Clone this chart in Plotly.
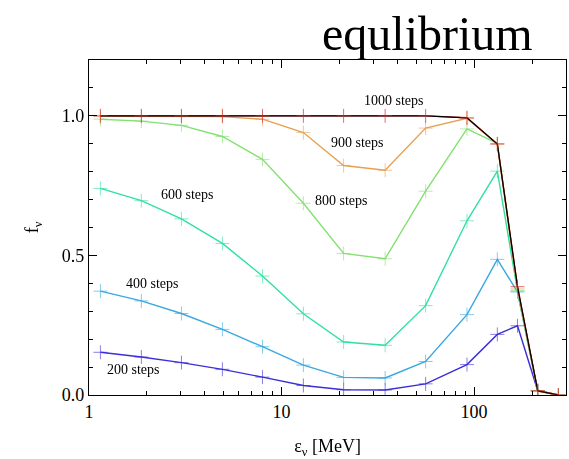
import numpy as np
import plotly.graph_objects as go

# neutrino energy bins [MeV]
energy = [1.146, 1.87, 3.02, 4.93, 7.96, 12.98, 21.0, 34.5, 56.0, 91.8, 132, 168, 214, 274]

# occupation numbers after a given number of steps
f_200 = [0.153, 0.136, 0.116, 0.092, 0.064, 0.034, 0.019, 0.018, 0.040, 0.109, 0.217, 0.248, 0.015, 0.0]
f_400 = [0.372, 0.337, 0.292, 0.235, 0.173, 0.107, 0.063, 0.061, 0.120, 0.288, 0.486, 0.369, 0.015, 0.0]
f_600 = [0.740, 0.696, 0.631, 0.543, 0.426, 0.291, 0.190, 0.178, 0.320, 0.624, 0.802, 0.372, 0.015, 0.0]
f_800 = [0.988, 0.981, 0.966, 0.926, 0.844, 0.687, 0.507, 0.488, 0.730, 0.953, 0.901, 0.375, 0.015, 0.0]
f_900 = [0.998, 0.998, 0.998, 0.997, 0.988, 0.940, 0.822, 0.805, 0.956, 0.991, 0.899, 0.380, 0.015, 0.0]
f_1000 = [1.0, 1.0, 1.0, 1.0, 1.0, 1.0, 1.0, 1.0, 1.0, 0.993, 0.899, 0.388, 0.015, 0.0]
# equilibrium distribution
f_eq = [1.0, 1.0, 1.0, 1.0, 1.0, 1.0, 1.0, 1.0, 1.0, 0.993, 0.899, 0.388, 0.015, 0.0]

series = [
    ("200 steps", f_200, "#3a2fd8"),
    ("400 steps", f_400, "#38a8e0"),
    ("600 steps", f_600, "#30e0a0"),
    ("800 steps", f_800, "#84e070"),
    ("900 steps", f_900, "#e8a050"),
]

label_pos = {
    "200 steps": (1.71, 0.093),
    "400 steps": (2.14, 0.40),
    "600 steps": (3.26, 0.72),
    "800 steps": (20.5, 0.698),
    "900 steps": (24.9, 0.906),
    "1000 steps": (38.3, 1.056),
}

serif = "Liberation Serif, Times New Roman, serif"

fig = go.Figure()
for name, vals, col in series:
    fig.add_trace(go.Scatter(
        x=energy, y=vals, mode="lines", name=name,
        line=dict(color=col, width=1.4),
    ))
    fig.add_trace(go.Scatter(
        x=energy, y=vals, mode="markers", name=name, opacity=0.6,
        marker=dict(symbol="cross-thin", size=10, line=dict(color=col, width=1)),
    ))

# 1000 steps: red line and crosses, with the equilibrium curve drawn in black
fig.add_trace(go.Scatter(
    x=energy, y=f_1000, mode="lines", name="1000 steps",
    line=dict(color="#c83030", width=1.4),
))
fig.add_trace(go.Scatter(
    x=energy, y=f_eq, mode="lines", name="equilibrium",
    line=dict(color="black", width=1.2),
))
fig.add_trace(go.Scatter(
    x=energy, y=f_1000, mode="markers", name="1000 steps", opacity=0.7,
    marker=dict(symbol="cross-thin", size=10, line=dict(color="#d03030", width=1)),
))

for text, (lx, ly) in label_pos.items():
    fig.add_annotation(x=np.log10(lx), y=ly, text=text, showarrow=False,
                       font=dict(family=serif, size=14, color="black"))

fig.add_annotation(xref="paper", yref="paper", x=0.71, y=1.0, xanchor="center",
                   yanchor="bottom", yshift=-2, text="equlibrium", showarrow=False,
                   font=dict(family=serif, size=48, color="black"))

fig.update_layout(
    width=569, height=459,
    margin=dict(l=89, r=3, t=60, b=64),
    paper_bgcolor="white", plot_bgcolor="white",
    showlegend=False,
    font=dict(family=serif, size=18, color="black"),
)
fig.update_xaxes(
    type="log", range=[0, np.log10(300)],
    tickvals=[1, 10, 100], ticktext=["1", "10", "100"],
    ticks="inside", ticklen=8, tickwidth=1, tickcolor="black",
    minor=dict(ticks="inside", ticklen=4, tickwidth=1, tickcolor="black", dtick="D1", showgrid=False),
    showline=True, linecolor="black", linewidth=1.2, mirror="ticks",
    showgrid=False, zeroline=False,
    title=dict(text="ε<sub>ν</sub> [MeV]", font=dict(family=serif, size=18), standoff=18),
)
fig.update_yaxes(
    range=[0, 1.2],
    tickvals=[0, 0.5, 1.0], ticktext=["0.0", "0.5", "1.0"],
    ticks="inside", ticklen=8, tickwidth=1, tickcolor="black",
    minor=dict(ticks="inside", ticklen=4, tickwidth=1, tickcolor="black", dtick=0.1, showgrid=False),
    showline=True, linecolor="black", linewidth=1.2, mirror="ticks",
    showgrid=False, zeroline=False,
    title=dict(text="f<sub>ν</sub>", font=dict(family=serif, size=18), standoff=18),
)

fig.write_html("out.html")
